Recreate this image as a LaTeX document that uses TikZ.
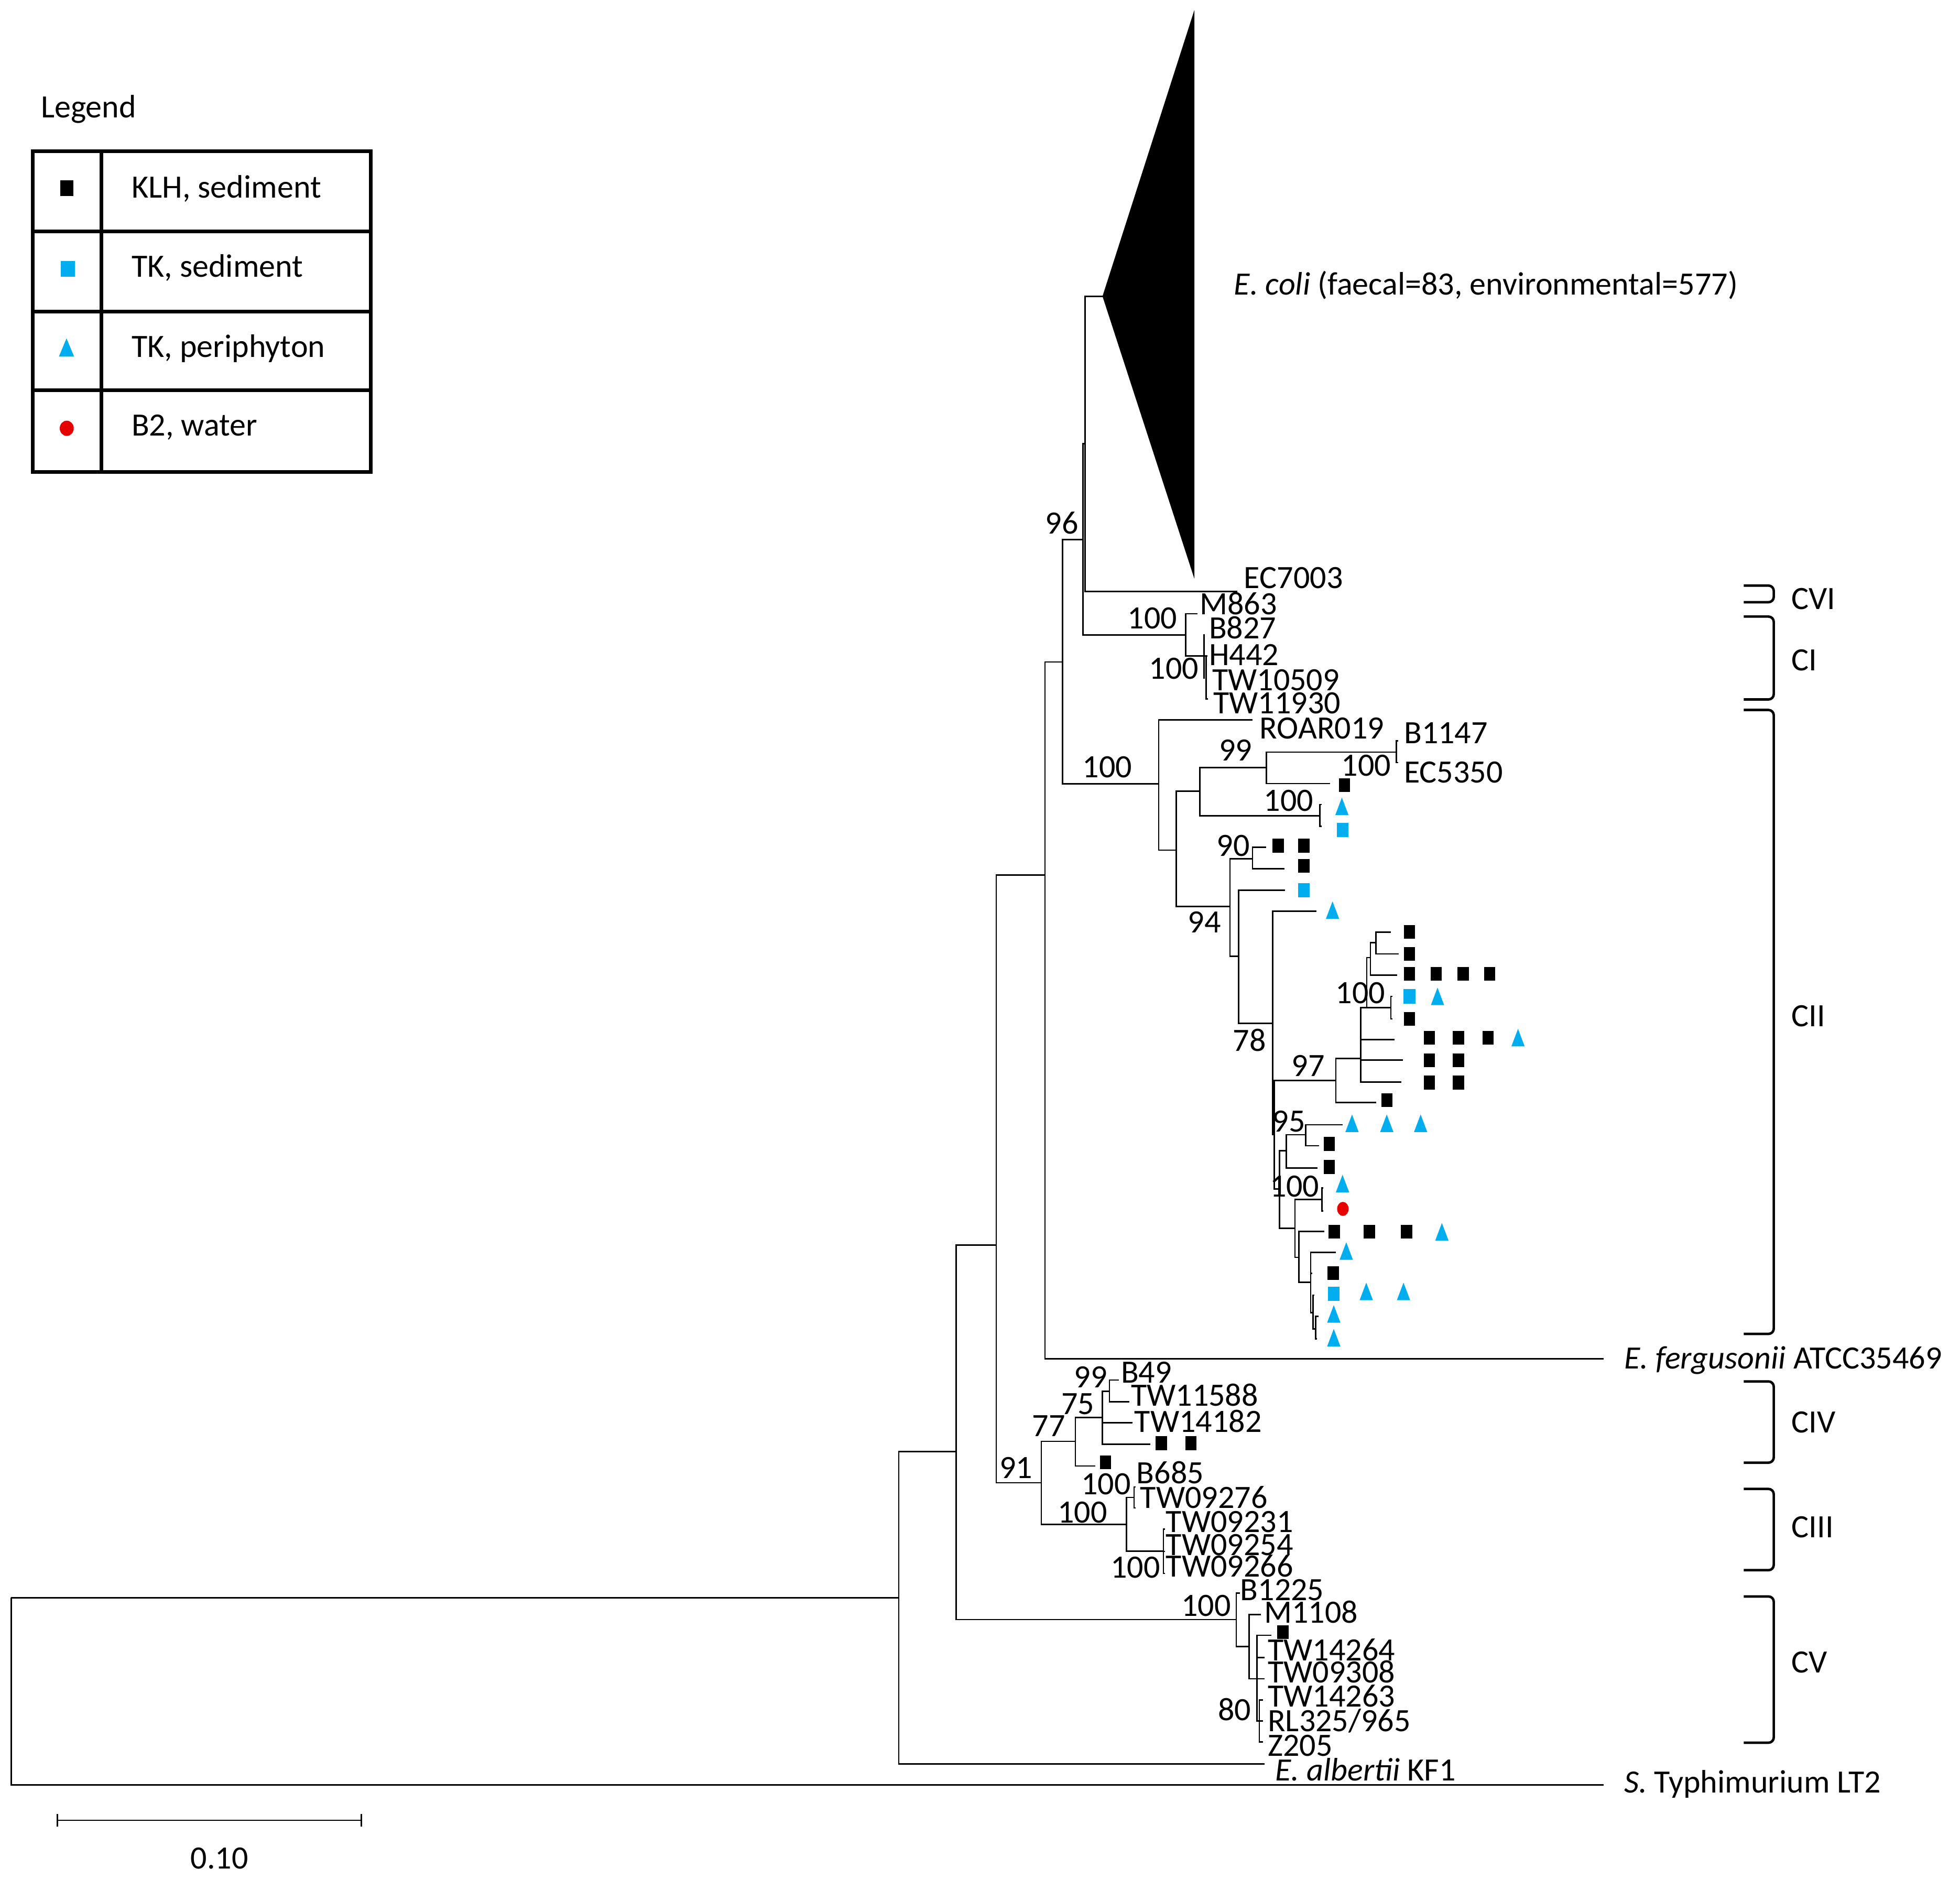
\documentclass[tikz,border=0pt]{standalone}
\usepackage{fontspec}
\setmainfont{Carlito}
\usetikzlibrary{shapes.geometric}
\definecolor{tkblue}{RGB}{0,174,239}
\definecolor{wred}{RGB}{230,0,0}

\begin{document}
\begin{tikzpicture}[x=0.025cm,y=-0.025cm,font=\fontsize{18.5}{22}\selectfont,
            branch/.style={line width=0.8pt},
            lbl/.style={anchor=base west,inner sep=0pt},
            bval/.style={anchor=base east,inner sep=0pt},
            ksq/.style={fill=black,inner sep=0pt,minimum width=0.225cm,minimum height=0.275cm},
            bsq/.style={fill=tkblue,inner sep=0pt,minimum width=0.235cm,minimum height=0.285cm},
            btri/.style={inner sep=0pt,minimum width=0.265cm,minimum height=0.35cm,
                path picture={\fill[tkblue] (path picture bounding box.south west) -- (path picture bounding box.south east) -- (path picture bounding box.north) -- cycle;}},
            rdot/.style={ellipse,fill=wred,inner sep=0pt,minimum width=0.23cm,minimum height=0.28cm},
            clade/.style={line width=1.4pt,rounded corners=3pt}]
            \useasboundingbox (0,0) rectangle (1568,1503);

            % legend
            \node[lbl] (legtitle) at (32.5,94) {Legend};
            \draw[line width=2.1pt] (26.4,121) rectangle (296.7,377.6);
            \draw[line width=2.1pt] (81.3,121) -- (81.3,377.6);
            \foreach \y in {185,249.2,312.3}
                \draw[line width=2.1pt] (26.4,\y) -- (296.7,\y);
            \node[ksq,minimum width=0.27cm,minimum height=0.31cm] (lg1) at (53.5,150.6) {};
            \node[bsq,minimum width=0.28cm,minimum height=0.31cm] (lg2) at (54.4,215.2) {};
            \node[btri,minimum width=0.305cm,minimum height=0.365cm] (lg3) at (53.2,278) {};
            \node[rdot,minimum width=0.28cm,minimum height=0.305cm] (lg4) at (53.4,342.6) {};
            \node[lbl] (lgt1) at (105,158.3) {KLH, sediment};
            \node[lbl] (lgt2) at (105,221.4) {TK, sediment};
            \node[lbl] (lgt3) at (105,285.6) {TK, periphyton};
            \node[lbl] (lgt4) at (105,348.7) {B2, water};

            % tree nodes and tips
            \foreach \n/\x/\y in {root/9/1278, n719/719/1278, typh/1283/1427.7, n765/765/1161, alb/1011.8/1410.9,
                n797/797/996, ncv/989/1295.5, n836/836/700, n833/833/1186, n850/850/529.5, ferg/1283/1087,
                nP/866.5/431.6, nA/927/627, nQ/868/355, nM/948.5/507.8, apex/882/237, ec7003/990/473,
                m863/958/491, nB/963.2/524.7, b827/964/507.8, nB2/965/524.7, tw10509/964/542.3,
                h442/965.8/524.7, tw11930/966.5/559.2, roar/1002/575.8, nC/941/680, nD/960/633, nE/984/725,
                nF/1013/614, nG/1056/652.6, nH/1117/601.6, lf1/1064/626.8, b1147/1118.5/592.5, ec5350/1118.5/610,
                lf2/1057.5/643.5, lf3/1057.5/661, nI/1002/687, nJ/991/765, lf4/1013/677.8, lf5/1027.4/695,
                lf6/1028/712, nK/1018/818.7, lf7/1053/729, nL/1019.5/907.7, nN/1068.7/864.3, nO/1023.5/951,
                nR/1088.7/846.7, lf8/1101/882, nS/1093.4/806, lf9/1115.6/831.5, lf10/1122.4/848, lf11/1121/865.5,
                nT/1096.3/766, nU/1112.7/806, nV/1100.6/754, lf12/1117.6/780, lf13/1112.7/745.5, lf14/1119/763,
                lf15/1114/797, lf16/1114/815, nW/1029/920.6, nX/1036/982.4, nY/1044.5/907.7, lf17/1054/934.2,
                lf18/1074/899.7, lf19/1055.4/916.5, nZ/1057.6/959.5, nAA/1039/1005.8, lf20/1058.8/950.3,
                lf21/1058.8/968.8, lf22/1059.5/985, nAB/1048.6/1025.8, lf23/1068.8/1001.7, lf24/1050/1018.5,
                nAC/1050.5/1050, lf25/1051.5/1036, nAD/1052.5/1063, lf26/1055/1053, lf27/1053.5/1071,
                n77/860.3/1153, n100a/901.1/1219.5, n75/881.8/1134, lf28/876.4/1172.7, n99/887.6/1112.8,
                tw14182/906.2/1138.1, lf29/920.4/1155.2, b49/895.1/1103.9, tw11588/903.4/1121.4,
                n100b/907.3/1197.8, n100c/930.7/1240.8, b685/908.5/1189.4, tw09276/908.5/1206.2,
                tw09231/932/1223.3, tw09254/932/1241, tw09266/932/1258.6, b1225/991.8/1274.3,
                nCX/999.2/1317.2, m1108/1008.6/1291.4, nCY/1005.5/1342.8, lf30/1017/1308,
                tw14264/1011.8/1326, tw09308/1011.8/1342.8, n80/1007.5/1376.6, tw14263/1010.5/1359.9,
                rl325/1010.5/1376.6, z205/1010.5/1393.4, ectop/955.5/8, ecbot/955.5/463}
                \coordinate (\n) at (\x,\y);

            \fill (apex) -- (ectop) -- (ecbot) -- cycle;

            \foreach \p/\c in {root/n719, root/typh, n719/n765, n719/alb, n765/n797, n765/ncv,
                n797/n836, n797/n833, n836/n850, n836/ferg, n850/nP, n850/nA, nP/nQ, nP/nM,
                nQ/apex, nQ/ec7003, nM/m863, nM/nB, nB/b827, nB/nB2, nB/tw10509, nB2/h442, nB2/tw11930,
                nA/roar, nA/nC, nC/nD, nC/nE, nD/nF, nD/nG, nF/nH, nF/lf1, nH/b1147, nH/ec5350,
                nG/lf2, nG/lf3, nE/nI, nE/nJ, nI/lf4, nI/lf5, nJ/lf6, nJ/nK, nK/lf7, nK/nL,
                nL/nN, nL/nO, nN/nR, nN/lf8, nR/nS, nR/lf9, nR/lf10, nR/lf11, nS/nT, nS/nU,
                nT/nV, nT/lf12, nV/lf13, nV/lf14, nU/lf15, nU/lf16, nO/nW, nO/nX, nW/nY, nW/lf17,
                nY/lf18, nY/lf19, nX/nZ, nX/nAA, nZ/lf20, nZ/lf21, nAA/lf22, nAA/nAB,
                nAB/lf23, nAB/lf24, nAB/nAC, nAC/lf25, nAC/nAD, nAD/lf26, nAD/lf27,
                n833/n77, n833/n100a, n77/n75, n77/lf28, n75/n99, n75/tw14182, n75/lf29,
                n99/b49, n99/tw11588, n100a/n100b, n100a/n100c, n100b/b685, n100b/tw09276,
                n100c/tw09231, n100c/tw09254, n100c/tw09266, ncv/b1225, ncv/nCX,
                nCX/m1108, nCX/nCY, nCY/lf30, nCY/tw14264, nCY/tw09308, nCY/n80,
                n80/tw14263, n80/rl325, n80/z205}
                \draw[branch] (\p) |- (\c);

            % taxa
            \foreach \n/\x/\y in {EC7003/995/470.5, M863/959.5/491.4, B827/967/510.7, H442/967/532.4,
                TW10509/969.5/552.5, TW11930/970.5/571, ROAR019/1007.5/591, B1147/1123/594.6,
                EC5350/1123/626, B49/896.5/1106.3, TW11588/904.5/1124.5, TW14182/907.3/1145.4,
                B685/909/1186.7, TW09276/912/1206.2, TW09231/932.5/1225.8, TW09254/932.5/1244,
                TW09266/932.5/1261.4, B1225/992/1280.2, M1108/1011/1298.4, TW14264/1014/1328.4,
                TW09308/1014/1345.9, TW14263/1014/1365.4, Z205/1014/1404.6}
                \node[lbl] (t\n) at (\x,\y) {\n};
            \node[lbl] (tRL) at (1014,1385) {RL325/965};
            \node[lbl] (tecoli) at (987,236) {\textit{E. coli} (faecal=83, environmental=577)};
            \node[lbl] (tferg) at (1299,1095) {\textit{E. fergusonii} ATCC35469};
            \node[lbl] (talb) at (1020,1424.5) {\textit{E. albertii} KF1};
            \node[lbl] (ttyph) at (1299,1434) {\textit{S.} Typhimurium LT2};

            % bootstrap values
            \foreach \x/\y/\v [count=\i] in {863/426.8/96, 942/503/100, 959.2/543/100, 906/622/100,
                1002/608.6/99, 1113/620.5/100, 1051/649/100, 1000/685/90, 977/746/94, 1108.4/802.6/100,
                1013/841/78, 1060/861/97, 1044.5/905.3/95, 1055.7/957.5/100, 886.1/1109.8/99,
                875.8/1131.4/75, 852.5/1148.9/77, 826.2/1182.5/91, 904.9/1195.7/100, 886.1/1218.1/100,
                928.3/1262/100, 985/1292.8/100, 1001/1376/80}
                \node[bval] (bv\i) at (\x,\y) {\v};

            % isolate markers
            \foreach \x/\y [count=\i] in {1075.5/628, 1022.5/676.5, 1043/676.5, 1043/692.5, 1127.5/745.5,
                1127.5/763, 1127.5/779, 1149/779, 1170.5/779, 1191.7/779, 1127.5/815, 1143.6/830,
                1166.7/830, 1190.5/830, 1143.6/848, 1166.7/848, 1143.6/866, 1166.7/866, 1109.5/880,
                1063.5/915, 1063.5/933.5, 1067.4/985.3, 1095.4/985.3, 1125.3/985.3, 1066.5/1018.5,
                929/1154.4, 952.8/1154.4, 884.5/1169.8, 1026.3/1305.5}
                \node[ksq] (k\i) at (\x,\y) {};
            \foreach \x/\y [count=\i] in {1074/664, 1043/712, 1127.5/797, 1067/1035}
                \node[bsq] (s\i) at (\x,\y) {};
            \foreach \x/\y [count=\i] in {1073.5/645, 1066/728, 1150/797, 1214.4/830, 1081.6/898.5,
                1109.4/898.5, 1136.5/898.5, 1074/946.7, 1153.5/985.3, 1077/1000.7, 1093/1033,
                1122.8/1033, 1067/1051, 1067/1070}
                \node[btri] (p\i) at (\x,\y) {};
            \node[rdot] (w1) at (1074.3,967) {};

            % clades
            \foreach \a/\b/\c/\y in {468.4/481.7/CVI/487.3, 493.2/559.5/CI/536.3, 567.9/1067/CII/821,
                1105/1170/CIV/1146, 1191/1256/CIII/1230, 1277/1394/CV/1338}{
                \draw[clade] (1395,\a) -- (1419,\a) -- (1419,\b) -- (1395,\b);
                \node[lbl] (lab\c) at (1433,\y) {\c};
            }

            % scale bar
            \coordinate (sbL) at (46,1456);
            \coordinate (sbR) at (289,1456);
            \draw[branch] (sbL) -- (sbR);
            \draw[branch] (46,1451) -- (46,1461);
            \draw[branch] (289,1451) -- (289,1461);
            \node[anchor=base,inner sep=0pt] (sblab) at (175.5,1495) {0.10};
        \end{tikzpicture}
\end{document}
